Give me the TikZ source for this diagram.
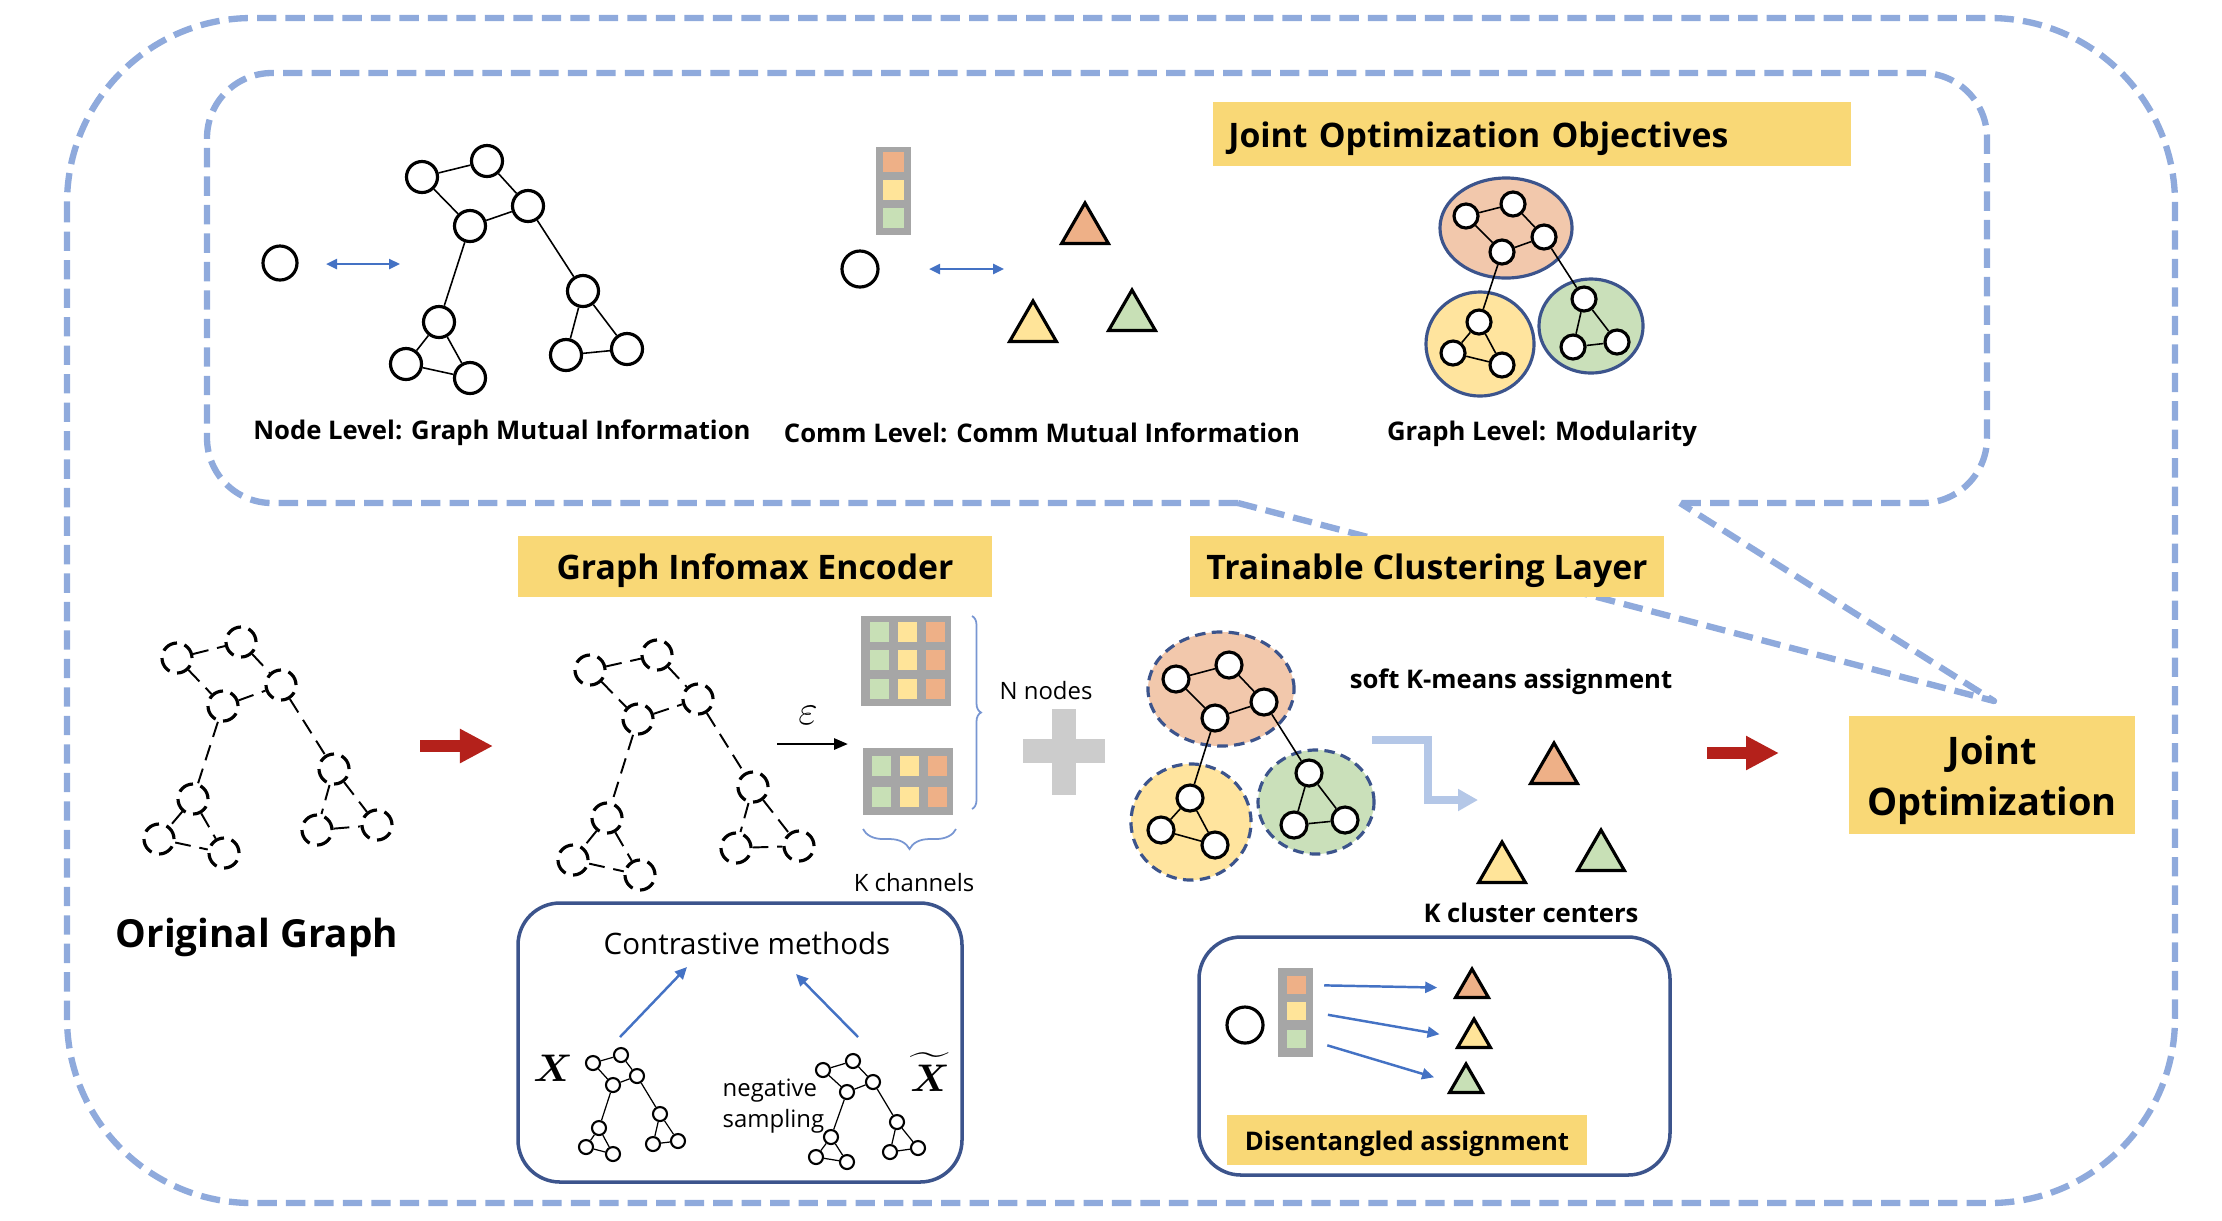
\documentclass[tikz,border=0pt]{standalone}
\usepackage{fontspec}
\setmainfont{Open Sans}
\usepackage{amsmath}
\usetikzlibrary{arrows.meta,positioning,shapes.geometric,decorations.pathreplacing}

\definecolor{dashblue}{RGB}{143,170,220}
\definecolor{navy}{RGB}{60,84,140}
\definecolor{arrowblue}{RGB}{68,114,196}
\definecolor{lightblue}{RGB}{180,199,231}
\definecolor{braceblue}{RGB}{120,150,210}
\definecolor{titleyellow}{RGB}{249,216,118}
\definecolor{cellorange}{RGB}{238,176,135}
\definecolor{cellyellow}{RGB}{255,228,153}
\definecolor{cellgreen}{RGB}{200,224,182}
\definecolor{ellorange}{RGB}{242,200,172}
\definecolor{ellyellow}{RGB}{255,228,158}
\definecolor{ellgreen}{RGB}{202,224,186}
\definecolor{cellgray}{RGB}{166,166,166}
\definecolor{darkred}{RGB}{180,33,27}
\definecolor{plusgray}{RGB}{204,204,204}

% one graph: prefix, node style, edge style, node list
\newcommand{\drawgraph}[4]{%
  \foreach \n/\x/\y in {#4}
    \node[#2] (#1\n) at (\x,\y) {};
  \foreach \u/\v in {a/b,b/c,a/d,d/c,d/e,c/h,e/f,e/g,f/g,h/i,h/j,i/j}
    \draw[#3] (#1\u) -- (#1\v);
}

\begin{document}
\begin{tikzpicture}[x=0.01cm,y=-0.01cm,
    gnode/.style={circle,draw,fill=white,line width=0.9pt,inner sep=0pt,minimum size=#1},
    dnode/.style={gnode=#1,dash pattern=on 4.5pt off 2.2pt},
    gedge/.style={line width=0.45pt},
    dedge/.style={line width=0.55pt,dash pattern=on 4.5pt off 2.5pt},
    tri/.style={regular polygon,regular polygon sides=3,draw,line width=0.9pt,inner sep=0pt,minimum size=#1},
    cell/.style={rectangle,inner sep=0pt,minimum width=0.19cm,minimum height=0.2cm},
    vecbar/.style={rectangle,fill=cellgray,inner sep=0pt},
    titlebox/.style={rectangle,fill=titleyellow,inner sep=0pt,text height=8.4pt,text depth=0.6pt,
                     font=\bfseries\fontsize{9.6}{12}\selectfont},
    outerdash/.style={draw=dashblue,line width=1.8pt,dash pattern=on 5.5pt off 2.6pt},
    bluearrow/.style={draw=arrowblue,line width=0.7pt,-{Triangle[length=0.12cm,width=0.11cm]}},
    bidir/.style={draw=arrowblue,line width=0.7pt,{Triangle[length=0.11cm,width=0.1cm]}-{Triangle[length=0.11cm,width=0.1cm]}},
    redarrow/.style={draw=darkred,line width=0.12cm,-{Triangle[length=0.33cm,width=0.32cm]}},
    roundbox/.style={draw=navy,line width=1pt,rounded corners=0.42cm},
    cluster/.style={ellipse,draw=navy,line width=0.9pt,inner sep=0pt},
    lbl/.style={font=\bfseries\fontsize{7.3}{9}\selectfont,yshift=-0.045cm},
    small/.style={font=\fontsize{6.8}{8.8}\selectfont,yshift=-0.02cm}]

  \useasboundingbox (0,0) rectangle (2222,1220);

  % frames
  \draw[outerdash,rounded corners=1.85cm] (67,18) rectangle (2175,1203);
  \node[titlebox,minimum width=2.86cm,minimum height=1.18cm,align=center,text height=,text depth=,
        font=\bfseries\fontsize{10.8}{14.5}\selectfont] (jopt) at (1992,775) {\rule{0pt}{11pt}Joint\\Optimization};
  \coordinate (tl) at (1238,503);
  \coordinate (tr) at (1680,503);
  \coordinate (tip) at (1994,701);
  \draw[outerdash,rounded corners=0.65cm] (tl) -- (207,503) -- (207,73) -- (1987,73) -- (1987,503) -- (tr);
  \draw[outerdash,line join=round] (tl) -- (tip) -- (tr);

  \node[titlebox,minimum width=6.37cm,minimum height=0.63cm,text width=6.07cm,
        inner xsep=0.15cm,align=left] (objt) at (1532,134) {Joint Optimization Objectives};

  % node level
  \node[gnode=0.34cm] (nl0) at (280,263) {};
  \coordinate (na1) at (326,264);
  \coordinate (na2) at (400,264);
  \draw[bidir] (na1) -- (na2);
  \drawgraph{n}{gnode=0.31cm}{gedge}{a/422/177,b/487/161,c/528/206,d/470/226,e/439/322,
    f/406/364,g/470/378,h/583/291,i/566/355,j/627/349}
  \node[lbl] (nlt) at (502,428) {Node Level: Graph Mutual Information};

  % comm level
  \node[vecbar,minimum width=0.35cm,minimum height=0.88cm] (cvec) at (893,191) {};
  \node[cell,fill=cellorange,minimum width=0.21cm] (cvo) at (893,162) {};
  \node[cell,fill=cellyellow,minimum width=0.21cm] (cvy) at (893,190) {};
  \node[cell,fill=cellgreen,minimum width=0.21cm] (cvg) at (893,218) {};
  \node[gnode=0.36cm] (cl0) at (860,269) {};
  \coordinate (ca1) at (929,269);
  \coordinate (ca2) at (1004,269);
  \draw[bidir] (ca1) -- (ca2);
  \node[tri=0.54cm,fill=cellorange] (cto) at (1085,230) {};
  \node[tri=0.54cm,fill=cellyellow] (cty) at (1033,328) {};
  \node[tri=0.54cm,fill=cellgreen] (ctg) at (1132,317) {};
  \node[lbl] (clt) at (1042,428) {Comm Level: Comm Mutual Information};

  % graph level
  \node[cluster,fill=ellorange,minimum width=1.32cm,minimum height=1.0cm] (mo) at (1506,228) {};
  \node[cluster,fill=ellyellow,minimum width=1.08cm,minimum height=1.04cm] (my) at (1480,344) {};
  \node[cluster,fill=ellgreen,minimum width=1.04cm,minimum height=0.94cm] (mg) at (1591,326) {};
  \drawgraph{m}{gnode=0.24cm}{gedge}{a/1466/216,b/1513/204,c/1544/237,d/1502/252,e/1479/322,
    f/1453/353,g/1502/365,h/1584/299,i/1573/347,j/1617/342}
  \node[lbl] (glt) at (1542,429) {Graph Level: Modularity};

  % original graph
  \drawgraph{o}{dnode=0.3cm}{dedge}{a/177/658,b/241/642,c/281/685,d/223/706,e/193/799,
    f/159/839,g/224/853,h/334/769,i/317/830,j/377/825}
  \node[font=\bfseries\fontsize{11}{13}\selectfont] (ogt) at (257,937) {Original Graph};
  \coordinate (r1a) at (420,746);
  \coordinate (r1b) at (493,746);
  \draw[redarrow] (r1a) -- (r1b);

  % encoder
  \node[titlebox,minimum width=4.73cm,minimum height=0.61cm] (enct) at (755,566) {Graph Infomax Encoder};
  \drawgraph{e}{dnode=0.3cm}{dedge}{a/590/670,b/657/655,c/698/699,d/638/719,e/607/818,
    f/573/860,g/640/875,h/753/787,i/736/848,j/799/846}
  \coordinate (ea1) at (777,744);
  \coordinate (ea2) at (848,744);
  \draw[line width=0.8pt,-{Triangle[length=0.14cm,width=0.11cm]}] (ea1) -- (ea2);
  \node[font=\fontsize{13}{15}\selectfont] (eps) at (808,715) {$\varepsilon$};
  \node[vecbar,minimum width=0.89cm,minimum height=0.9cm] (gtop) at (906,661) {};
  \foreach \c/\xx in {cellgreen/879,cellyellow/907,cellorange/935}
    \foreach \yy in {632,660,689}
      \node[cell,fill=\c] (gt-\xx-\yy) at (\xx,\yy) {};
  \node[vecbar,minimum width=0.89cm,minimum height=0.67cm] (gbot) at (908,781) {};
  \foreach \c/\xx in {cellgreen/881,cellyellow/909,cellorange/937}
    \foreach \yy in {766,797}
      \node[cell,fill=\c] (gb-\xx-\yy) at (\xx,\yy) {};
  \draw[braceblue,line width=0.5pt,decorate,decoration={brace,amplitude=0.09cm}] (972,616) -- (972,809);
  \draw[braceblue,line width=0.5pt,decorate,decoration={brace,amplitude=0.2cm}] (956,829) -- (863,829);
  \node[small] (nn) at (1046,689) {N nodes};
  \node[small] (kch) at (914,881) {K channels};

  % plus
  \fill[plusgray] (1023,739) rectangle (1105,763);
  \fill[plusgray] (1052,709) rectangle (1076,795);

  % contrastive box
  \draw[roundbox] (518,903) rectangle (962,1182);
  \node[font=\fontsize{8.4}{10}\selectfont] (ctm) at (747,943) {Contrastive methods};
  \drawgraph{p}{gnode=0.14cm,line width=0.6pt}{line width=0.35pt}{a/593/1063,b/621/1055,c/637/1076,d/613/1085,
    e/599/1128,f/586/1147,g/613/1154,h/660/1114,i/653/1144,j/678/1141}
  \drawgraph{q}{gnode=0.14cm,line width=0.6pt}{line width=0.35pt}{a/823/1070,b/853/1061,c/873/1082,d/847/1092,
    e/831/1137,f/816/1157,g/847/1162,h/897/1122,i/890/1152,j/918/1148}
  \node[font=\fontsize{11}{13}\selectfont] (xl) at (553,1068) {$\boldsymbol{X}$};
  \node[font=\fontsize{11}{13}\selectfont] (xr) at (930,1072) {$\widetilde{\boldsymbol{X}}$};
  \node[small,align=left,anchor=west,inner sep=0pt,yshift=-0.02cm] (negs) at (722,1102) {negative\\sampling};
  \coordinate (pa1) at (620,1037);
  \coordinate (pa2) at (687,967);
  \coordinate (qa1) at (858,1037);
  \coordinate (qa2) at (796,974);
  \draw[bluearrow] (pa1) -- (pa2);
  \draw[bluearrow] (qa1) -- (qa2);

  % clustering layer
  \node[titlebox,minimum width=4.74cm,minimum height=0.61cm] (clut) at (1427,566) {Trainable Clustering Layer};
  \node[cluster,fill=ellorange,dash pattern=on 3pt off 1.8pt,minimum width=1.46cm,minimum height=1.14cm] (ko) at (1221,689) {};
  \node[cluster,fill=ellyellow,dash pattern=on 3pt off 1.8pt,minimum width=1.2cm,minimum height=1.16cm] (ky) at (1191,822) {};
  \node[cluster,fill=ellgreen,dash pattern=on 3pt off 1.8pt,minimum width=1.16cm,minimum height=1.04cm] (kg) at (1316,802) {};
  \drawgraph{k}{gnode=0.26cm}{gedge}{a/1176/679,b/1229/665,c/1264/702,d/1215/718,e/1190/798,
    f/1161/830,g/1215/845,h/1309/773,i/1294/825,j/1345/820}
  \node[lbl] (skm) at (1511,677) {soft K-means assignment};
  \coordinate (sa) at (1372,740);
  \coordinate (sb) at (1478,800);
  \draw[lightblue,line width=0.08cm,-{Triangle[length=0.2cm,width=0.21cm]}] (sa) -| (1428,800) -- (sb);
  \node[tri=0.54cm,fill=cellorange] (kto) at (1554,770) {};
  \node[tri=0.54cm,fill=cellyellow] (kty) at (1502,869) {};
  \node[tri=0.54cm,fill=cellgreen] (ktg) at (1601,857) {};
  \node[lbl] (kcc) at (1531,908) {K cluster centers};
  \coordinate (r2a) at (1707,753);
  \coordinate (r2b) at (1779,753);
  \draw[redarrow] (r2a) -- (r2b);

  % disentangled box
  \draw[roundbox] (1199,937) rectangle (1670,1175);
  \node[gnode=0.36cm] (dl0) at (1245,1025) {};
  \node[vecbar,minimum width=0.35cm,minimum height=0.89cm] (dvec) at (1295,1012) {};
  \node[cell,fill=cellorange,minimum height=0.18cm] (dvo) at (1296,985) {};
  \node[cell,fill=cellyellow,minimum height=0.18cm] (dvy) at (1296,1011) {};
  \node[cell,fill=cellgreen,minimum height=0.18cm] (dvg) at (1296,1039) {};
  \node[tri=0.38cm,fill=cellorange] (dto) at (1472,988) {};
  \node[tri=0.38cm,fill=cellyellow] (dty) at (1474,1038) {};
  \node[tri=0.38cm,fill=cellgreen] (dtg) at (1466,1083) {};
  \draw[bluearrow,shorten <=0.18cm,shorten >=0.22cm] (dvo.east) -- (dto.west);
  \draw[bluearrow,shorten <=0.22cm,shorten >=0.22cm] (dvy.east) -- (dty.west);
  \draw[bluearrow,shorten <=0.22cm,shorten >=0.2cm] (dvg.east) -- (dtg.west);
  \node[titlebox,minimum width=3.59cm,minimum height=0.5cm,text height=6.6pt,text depth=0.5pt,
        font=\bfseries\fontsize{7.3}{9}\selectfont] (dist) at (1407,1140) {Disentangled assignment};
\end{tikzpicture}
\end{document}
